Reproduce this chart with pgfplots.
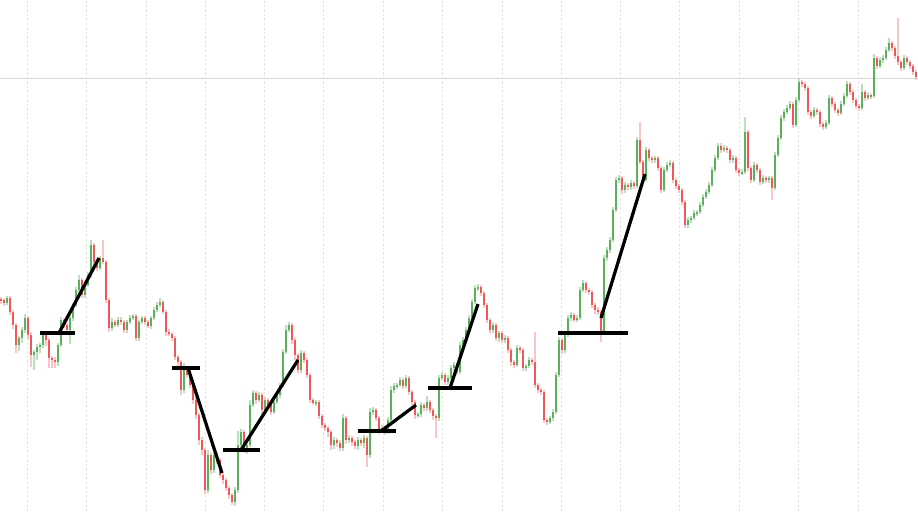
\documentclass[border=0pt]{standalone}
\usepackage{pgfplots}
\usepackage{pgfplotstable}
\pgfplotsset{compat=1.18}

\definecolor{upc}{RGB}{92,176,90}
\definecolor{dnc}{RGB}{240,88,88}
\colorlet{upw}{upc!40!white}
\colorlet{dnw}{dnc!35!white}

% candles: x, close, wick above body, wick below body (pixel units, y grows down)
\pgfplotstableread{
x c u d
1 300 3 4
4 303 2 3
7 298 2 2
10 312 2 3
13 325 2 4
16 345 2 8
19 338 2 6
22 330 3 5
25 318 4 3
28 335 2 5
31 355 3 12
34 352 2 15
37 347 3 8
40 345 2 6
43 335 3 3
46 340 2 6
49 358 2 10
52 360 2 8
55 362 3 6
58 345 2 4
61 320 3 2
64 325 2 3
67 330 2 3
70 318 2 14
73 305 2 3
76 290 3 2
79 280 5 2
82 295 2 3
85 285 2 3
88 275 3 2
91 245 5 3
94 262 2 4
97 268 2 3
100 258 2 2
103 262 18 2
106 300 2 3
109 328 2 4
112 322 4 3
115 325 2 2
118 320 3 2
121 322 3 3
124 330 2 3
127 322 2 3
130 318 3 2
133 316 2 2
136 338 2 3
139 322 2 3
142 318 2 2
145 322 2 3
148 326 2 2
151 318 2 3
154 310 3 2
157 305 3 2
160 302 4 2
163 312 2 2
166 332 2 4
169 334 3 2
172 338 2 3
175 357 2 3
178 362 2 5
181 390 2 5
184 368 5 3
187 375 2 3
190 385 2 3
193 400 2 4
196 415 3 4
199 440 2 5
202 450 3 5
205 490 2 4
208 455 5 3
211 470 2 4
214 455 3 3
217 460 3 4
220 475 2 3
223 480 2 4
226 488 2 3
229 495 2 4
232 502 2 3
235 490 3 4
238 445 14 3
241 432 3 3
244 450 2 3
247 445 2 4
250 405 5 2
253 393 3 2
256 400 2 4
259 395 3 2
262 410 2 5
265 400 3 3
268 405 2 4
271 412 2 3
274 402 3 2
277 395 3 2
280 385 2 3
283 352 3 2
286 330 5 2
289 325 3 2
292 340 2 4
295 355 2 5
298 370 2 4
301 353 3 3
304 360 2 3
307 375 2 3
310 400 2 3
313 403 2 2
316 402 2 3
319 416 2 3
322 425 2 3
325 428 2 3
328 432 2 5
331 445 2 5
334 440 3 4
337 443 2 4
340 448 3 3
343 418 4 3
346 440 2 4
349 438 3 3
352 442 2 4
355 446 2 3
358 440 3 4
361 443 2 3
364 438 3 5
367 455 2 12
370 412 4 3
373 410 3 3
376 418 2 3
379 430 2 4
382 428 3 3
385 432 2 3
388 420 3 2
391 390 4 2
394 386 3 3
397 385 2 3
400 380 3 2
403 386 2 3
406 378 3 2
409 392 2 3
412 402 2 3
415 415 2 4
418 414 2 3
421 405 3 3
424 408 2 3
427 402 6 3
430 410 2 3
433 416 2 4
436 418 2 20
439 378 3 3
442 375 3 2
445 382 2 3
448 378 3 3
451 368 3 2
454 365 3 3
457 372 2 3
460 345 3 2
463 340 3 3
466 330 3 2
469 318 3 2
472 302 3 2
475 288 3 2
478 287 3 3
481 293 2 3
484 305 2 3
487 320 2 3
490 330 2 4
493 325 3 3
496 338 2 3
499 333 2 4
502 340 2 3
505 338 3 3
508 350 2 3
511 362 2 4
514 365 2 3
517 348 3 2
520 350 2 3
523 368 2 3
526 366 2 3
529 360 3 2
532 362 2 3
535 385 30 3
538 390 2 3
541 392 2 3
544 420 2 3
547 422 2 3
550 418 2 2
553 412 3 3
556 375 3 2
559 340 3 2
562 350 2 4
565 335 3 3
568 318 3 2
571 315 3 3
574 320 2 2
577 318 3 2
580 290 3 2
583 283 3 2
586 290 2 3
589 292 2 3
592 305 2 3
595 310 2 4
598 312 3 3
601 332 2 10
604 258 3 2
607 250 3 3
610 240 3 3
613 210 3 2
616 180 3 2
619 178 3 3
622 190 2 4
625 185 3 3
628 187 2 3
631 183 3 3
634 186 2 3
637 140 3 2
640 162 18 2
643 180 2 3
646 150 3 2
649 158 2 3
652 160 2 3
655 158 2 3
658 168 2 3
661 190 2 3
664 170 3 2
667 165 3 2
670 163 3 2
673 180 2 3
676 186 2 3
679 190 2 3
682 202 2 3
685 225 2 3
688 220 3 3
691 218 2 3
694 213 3 2
697 212 2 3
700 205 3 2
703 197 3 2
706 192 3 2
709 185 3 2
712 170 3 2
715 158 3 2
718 146 3 2
721 150 3 3
724 148 3 2
727 150 2 3
730 160 2 3
733 158 3 3
736 170 2 3
739 173 2 3
742 172 3 2
745 132 15 2
748 168 2 3
751 180 2 3
754 165 3 2
757 170 2 3
760 182 2 3
763 178 3 2
766 180 2 3
769 178 2 3
772 188 2 12
775 155 3 2
778 138 3 2
781 118 3 2
784 112 3 3
787 108 3 2
790 104 3 2
793 125 2 3
796 100 3 2
799 82 4 2
802 84 2 3
805 88 2 3
808 112 2 3
811 116 2 3
814 110 3 2
817 112 2 3
820 124 2 3
823 127 2 3
826 123 3 2
829 98 3 2
832 104 2 3
835 110 2 3
838 113 2 3
841 104 3 2
844 96 3 2
847 84 3 2
850 92 2 3
853 100 2 3
856 106 2 3
859 108 2 3
862 92 8 2
865 98 2 3
868 95 3 2
871 96 2 3
874 58 4 2
877 66 2 3
880 60 3 2
883 58 3 3
886 50 3 2
889 43 5 2
892 48 2 3
895 56 2 3
898 62 38 3
901 68 2 3
904 58 3 2
907 62 2 3
910 66 2 3
913 72 2 3
916 77 2 3
}\candles

% open = previous close
\pgfplotstablecreatecol[
  create col/assign/.code={%
    \getthisrow{c}\cur
    \ifnum\pgfplotstablerow=0\relax
      \let\prv\cur
    \else
      \getprevrow{c}\prv
    \fi
    \pgfkeyslet{/pgfplots/table/create col/next content}\prv
  }]{o}\candles

\pgfplotsset{
  candlebar/.style 2 args={draw=none, mark=none, forget plot,
    error bars/y dir=both, error bars/y explicit, error bars/error mark=none,
    error bars/error bar style={line width=#2, draw=#1, solid}},
  upsel/.style={restrict expr to domain={\thisrow{o}-\thisrow{c}}{0.01:10000}},
  dnsel/.style={restrict expr to domain={\thisrow{o}-\thisrow{c}}{-10000:0}},
  trend/.style={black, line width=1.3pt, no marks},
}

\begin{document}
\begin{tikzpicture}
\begin{axis}[
    x=0.4pt, y=0.4pt,
    y dir=reverse,
    xmin=0, xmax=918, ymin=0, ymax=513,
    axis line style={draw=none},
    xtick={27,86,146,205,264,323,383,442,502,561,620,679,739,798,858},
    ytick={78},
    xticklabels={}, yticklabels={},
    major tick length=0pt,
    xmajorgrids, ymajorgrids,
    x grid style={gray!22, line width=0.4pt, dash pattern=on 1pt off 0.8pt},
    y grid style={gray!30, line width=0.4pt},
]
\coordinate (sw) at (rel axis cs:0,0);
\coordinate (ne) at (rel axis cs:1,1);

% wicks
\addplot[upsel, candlebar={upw}{0.45pt}] table[x=x,
  y expr={(min(\thisrow{o},\thisrow{c})-\thisrow{u}+max(\thisrow{o},\thisrow{c})+\thisrow{d})/2},
  y error expr={(max(\thisrow{o},\thisrow{c})+\thisrow{d}-min(\thisrow{o},\thisrow{c})+\thisrow{u})/2}] {\candles};
\addplot[dnsel, candlebar={dnw}{0.45pt}] table[x=x,
  y expr={(min(\thisrow{o},\thisrow{c})-\thisrow{u}+max(\thisrow{o},\thisrow{c})+\thisrow{d})/2},
  y error expr={(max(\thisrow{o},\thisrow{c})+\thisrow{d}-min(\thisrow{o},\thisrow{c})+\thisrow{u})/2}] {\candles};
% bodies
\addplot[upsel, candlebar={upc}{0.85pt}] table[x=x,
  y expr={(\thisrow{o}+\thisrow{c})/2},
  y error expr={max(abs(\thisrow{o}-\thisrow{c})/2,0.6)}] {\candles};
\addplot[dnsel, candlebar={dnc}{0.85pt}] table[x=x,
  y expr={(\thisrow{o}+\thisrow{c})/2},
  y error expr={max(abs(\thisrow{o}-\thisrow{c})/2,0.6)}] {\candles};

% levels and moves
\addplot[trend] coordinates {(40,333) (75,333)};
\addplot[trend] coordinates {(59,333) (99,258)};
\addplot[trend] coordinates {(172,368) (200,368)};
\addplot[trend] coordinates {(188,368) (222,473)};
\addplot[trend] coordinates {(223,450) (260,450)};
\addplot[trend] coordinates {(241,450) (298,360)};
\addplot[trend] coordinates {(358,431) (396,431)};
\addplot[trend] coordinates {(381,431) (416,405)};
\addplot[trend] coordinates {(428,388) (472,388)};
\addplot[trend] coordinates {(450,388) (478,304)};
\addplot[trend] coordinates {(558,333) (628,333)};
\addplot[trend] coordinates {(601,318) (645,174)};
\end{axis}
\pgfresetboundingbox
\useasboundingbox (sw) rectangle (ne);
\end{tikzpicture}
\end{document}
